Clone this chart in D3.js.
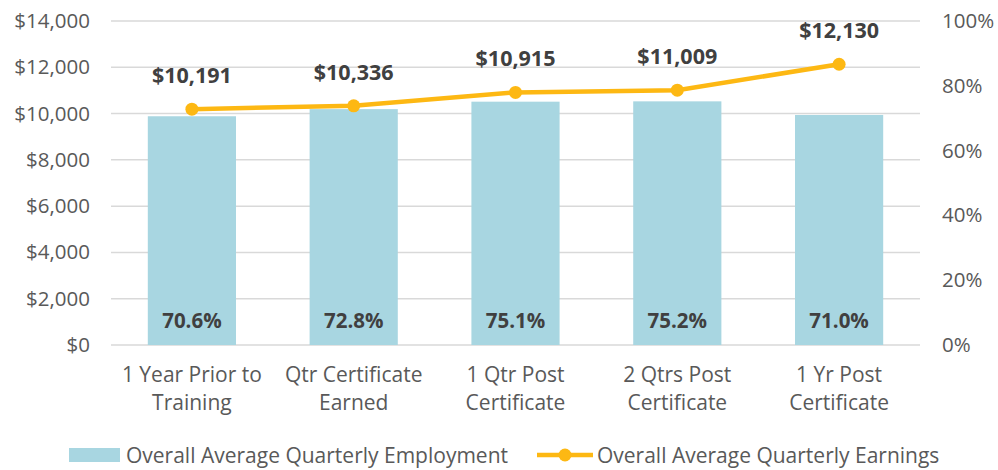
<!DOCTYPE html>
<html>
<head>
<meta charset="utf-8">
<script src="https://cdn.jsdelivr.net/npm/d3@7"></script>
<style>
  body { margin: 0; background: #fff; }
  svg text { font-family: "Open Sans", "Lato", sans-serif; }
</style>
</head>
<body>
<div id="chart"></div>
<script>
// Chart data
const categories = [
  ["1 Year Prior to", "Training"],
  ["Qtr Certificate", "Earned"],
  ["1 Qtr Post", "Certificate"],
  ["2 Qtrs Post", "Certificate"],
  ["1 Yr Post", "Certificate"]
];
const employment = [70.6, 72.8, 75.1, 75.2, 71.0];
const earnings = [10191, 10336, 10915, 11009, 12130];
const dollarTicks = [0, 2000, 4000, 6000, 8000, 10000, 12000, 14000];
const pctTicks = [0, 20, 40, 60, 80, 100];

const data = categories.map((c, i) => ({
  key: c.join(" "), lines: c, emp: employment[i], earn: earnings[i]
}));

// Dimensions
const margin = { top: 21, right: 78, bottom: 125, left: 111 },
      width = 998 - margin.left - margin.right,
      height = 470 - margin.top - margin.bottom;

const svg = d3.select("#chart")
  .append("svg")
  .attr("width", 998)
  .attr("height", 470)
  .append("g")
  .attr("transform", `translate(${margin.left},${margin.top})`);

// Scales
const x = d3.scaleBand()
  .domain(data.map(d => d.key))
  .range([0, width])
  .paddingInner(0.455)
  .paddingOuter(0.2275);

const yLeft = d3.scaleLinear().domain([0, 14000]).range([height, 0]);
const yRight = d3.scaleLinear().domain([0, 100]).range([height, 0]);

// Gridlines
svg.append("g")
  .selectAll("line")
  .data(dollarTicks)
  .enter()
  .append("line")
  .attr("x1", 0)
  .attr("x2", width)
  .attr("y1", d => yLeft(d))
  .attr("y2", d => yLeft(d))
  .attr("stroke", "#d9d9d9")
  .attr("stroke-width", 1.5);

// Left axis
const leftAxis = svg.append("g")
  .call(d3.axisLeft(yLeft).tickValues(dollarTicks)
    .tickFormat(d => "$" + d3.format(",")(d)).tickSize(0).tickPadding(21));
leftAxis.select(".domain").remove();
leftAxis.selectAll("text")
  .attr("fill", "#595959")
  .style("font-size", "20.5px");

// Right axis
const rightAxis = svg.append("g")
  .attr("transform", `translate(${width},0)`)
  .call(d3.axisRight(yRight).tickValues(pctTicks)
    .tickFormat(d => d + "%").tickSize(0).tickPadding(22));
rightAxis.select(".domain").remove();
rightAxis.selectAll("text")
  .attr("fill", "#595959")
  .style("font-size", "20.5px");

// Bars
svg.selectAll(".bar")
  .data(data)
  .enter()
  .append("rect")
  .attr("class", "bar")
  .attr("x", d => x(d.key))
  .attr("y", d => yRight(d.emp))
  .attr("width", x.bandwidth())
  .attr("height", d => height - yRight(d.emp))
  .attr("fill", "#a8d6e1");

// Bar labels
svg.selectAll(".pct")
  .data(data)
  .enter()
  .append("text")
  .attr("class", "pct")
  .attr("x", d => x(d.key) + x.bandwidth() / 2)
  .attr("y", height - 17)
  .attr("text-anchor", "middle")
  .attr("fill", "#404040")
  .style("font-size", "20.5px")
  .style("font-weight", "bold")
  .text(d => d.emp.toFixed(1) + "%");

// Earnings line
const line = d3.line()
  .x(d => x(d.key) + x.bandwidth() / 2)
  .y(d => yLeft(d.earn));

svg.append("path")
  .datum(data)
  .attr("fill", "none")
  .attr("stroke", "#fdb813")
  .attr("stroke-width", 4.5)
  .attr("d", line);

svg.selectAll(".dot")
  .data(data)
  .enter()
  .append("circle")
  .attr("class", "dot")
  .attr("cx", d => x(d.key) + x.bandwidth() / 2)
  .attr("cy", d => yLeft(d.earn))
  .attr("r", 6.5)
  .attr("fill", "#fdb813");

svg.selectAll(".earn")
  .data(data)
  .enter()
  .append("text")
  .attr("class", "earn")
  .attr("x", d => x(d.key) + x.bandwidth() / 2)
  .attr("y", d => yLeft(d.earn) - 26)
  .attr("text-anchor", "middle")
  .attr("fill", "#404040")
  .style("font-size", "21.5px")
  .style("font-weight", "bold")
  .text(d => "$" + d3.format(",")(d.earn));

// Category labels (two lines)
const cat = svg.selectAll(".cat")
  .data(data)
  .enter()
  .append("text")
  .attr("class", "cat")
  .attr("x", d => x(d.key) + x.bandwidth() / 2)
  .attr("y", height + 37)
  .attr("text-anchor", "middle")
  .attr("fill", "#595959")
  .style("font-size", "21px");

cat.selectAll("tspan")
  .data(d => d.lines.map(t => ({ t, cx: x(d.key) + x.bandwidth() / 2 })))
  .enter()
  .append("tspan")
  .attr("x", d => d.cx)
  .attr("dy", (d, i) => i === 0 ? 0 : 28)
  .text(d => d.t);

// Legend
const legend = svg.append("g")
  .attr("transform", `translate(${-margin.left},${height + 110})`);

legend.append("rect")
  .attr("x", 69)
  .attr("y", -7)
  .attr("width", 51)
  .attr("height", 14)
  .attr("fill", "#a8d6e1");

legend.append("text")
  .attr("x", 126)
  .attr("y", 7.5)
  .attr("fill", "#595959")
  .style("font-size", "21px")
  .text("Overall Average Quarterly Employment");

legend.append("line")
  .attr("x1", 537)
  .attr("x2", 593)
  .attr("y1", 0)
  .attr("y2", 0)
  .attr("stroke", "#fdb813")
  .attr("stroke-width", 4.5);

legend.append("circle")
  .attr("cx", 565)
  .attr("cy", 0)
  .attr("r", 6.5)
  .attr("fill", "#fdb813");

legend.append("text")
  .attr("x", 597)
  .attr("y", 7.5)
  .attr("fill", "#595959")
  .style("font-size", "21px")
  .text("Overall Average Quarterly Earnings");
</script>
</body>
</html>
